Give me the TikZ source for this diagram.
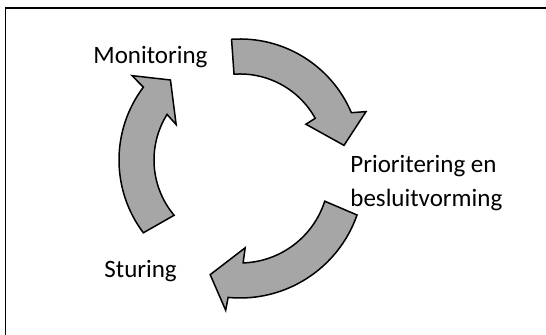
\documentclass[tikz,border=0pt]{standalone}
\usepackage{fontspec}
\setmainfont{Carlito}
\definecolor{arrowgray}{RGB}{166,166,166}

\begin{document}
\begin{tikzpicture}[x=0.5pt, y=0.5pt]
\tikzstyle{cyclearrow}=[draw=black, fill=arrowgray, line width=0.75pt, line join=miter]
\tikzstyle{phase}=[inner sep=0pt, anchor=base west, font=\fontsize{12.5}{17}\selectfont]

\useasboundingbox (0,0) rectangle (546,335);

% Frame
\draw[line width=0.6pt] (5.5,0) -- (5.5,327) -- (546,327);

% Phases
\node[phase] (mon) at (93,271) {Monitoring};
\node[phase, align=left] (prio) at (350,128) {Prioritering en\\besluitvorming};
\node[phase] (stu) at (104,57) {Sturing};

% Monitoring to prioritering
\draw[cyclearrow, shift={(240,175)}] (94:121) arc[start angle=94, end angle=23, radius=121]
  -- (21:135) -- (8:105) -- (28.5:75) -- (29:86) arc[start angle=29, end angle=94, radius=86] -- cycle;

% Prioritering to sturing
\draw[cyclearrow, shift={(240,161)}] (-19.3:124) arc[start angle=-19.3, end angle=-95.5, radius=124]
  -- (-96:137) -- (-106.5:105) -- (-86:74) -- (-88:89) arc[start angle=-88, end angle=-17.8, radius=89] -- cycle;

% Sturing to monitoring
\draw[cyclearrow, shift={(240,175)}] (217:121) arc[start angle=217, end angle=143, radius=121]
  -- (142:137) -- (131:106) -- (151:73) -- (148:86) arc[start angle=148, end angle=220, radius=86] -- cycle;
\end{tikzpicture}
\end{document}
